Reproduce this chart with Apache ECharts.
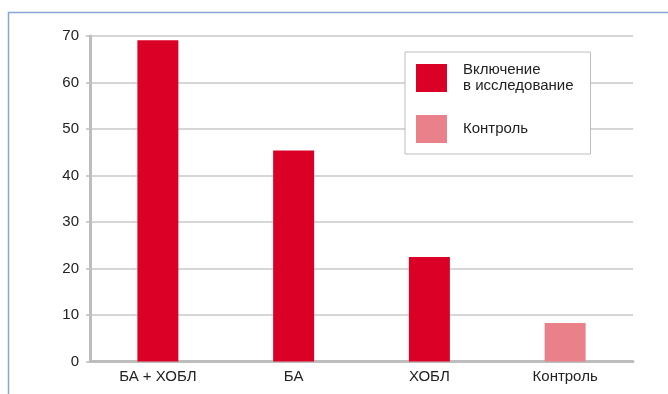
<!DOCTYPE html>
<html lang="ru">
<head>
  <meta charset="UTF-8">
  <title>Включение в исследование</title>
  <script src="https://cdn.jsdelivr.net/npm/echarts@6/dist/echarts.min.js"></script>
  <style>
    html, body { margin: 0; padding: 0; background: #fff; }
    #chart { width: 668px; height: 394px; }
  </style>
</head>
<body>
  <div id="chart"></div>
  <script>
    // данные
    const categories = ['БА + ХОБЛ', 'БА', 'ХОБЛ', 'Контроль'];
    const studyValues = [69.1, 45.4, 22.5, '-'];
    const controlValues = ['-', '-', '-', 8.3];
    const yTicks = { min: 0, max: 70, interval: 10 };

    const font = '"Liberation Sans", Arial, sans-serif';
    const chart = echarts.init(document.getElementById('chart'));

    chart.setOption({
      backgroundColor: '#fff',
      animation: false,
      graphic: [{
        type: 'rect',
        shape: { x: 8.5, y: 12.5, width: 700, height: 420 },
        style: { fill: 'none', stroke: '#86a6d6', lineWidth: 1.5 },
        silent: true
      }],
      grid: { left: 90, right: 35, top: 36, bottom: 32.5 },
      legend: {
        orient: 'vertical',
        left: 405, top: 52,
        padding: [7, 17, 11, 11],
        itemWidth: 31, itemHeight: 28, itemGap: 18,
        icon: 'rect',
        borderColor: '#bdbdbd', borderWidth: 1,
        backgroundColor: '#fff',
        textStyle: { fontFamily: font, fontSize: 15, lineHeight: 16, color: '#222', padding: [6, 0, 0, 11] },
        data: ['Включение\nв исследование', 'Контроль']
      },
      xAxis: {
        type: 'category',
        data: categories,
        axisLine: { lineStyle: { color: '#bdbdbd', width: 3 } },
        axisTick: { length: 4, lineStyle: { color: '#bdbdbd', width: 2 } },
        axisLabel: { fontFamily: font, fontSize: 15, color: '#222', margin: 8 }
      },
      yAxis: {
        type: 'value',
        min: yTicks.min, max: yTicks.max, interval: yTicks.interval,
        axisLine: { show: true, lineStyle: { color: '#bdbdbd', width: 3 } },
        axisTick: { show: true, length: 4, lineStyle: { color: '#bdbdbd', width: 1.5 } },
        axisLabel: { fontFamily: font, fontSize: 15, color: '#222', margin: 11 },
        splitLine: { lineStyle: { color: '#c8c8c8', width: 1.5 } }
      },
      series: [
        {
          name: 'Включение\nв исследование',
          type: 'bar', stack: 'all',
          barWidth: 41,
          data: studyValues,
          itemStyle: { color: '#db0026' }
        },
        {
          name: 'Контроль',
          type: 'bar', stack: 'all',
          barWidth: 41,
          data: controlValues,
          itemStyle: { color: '#ea808a' }
        }
      ]
    });
  </script>
</body>
</html>
